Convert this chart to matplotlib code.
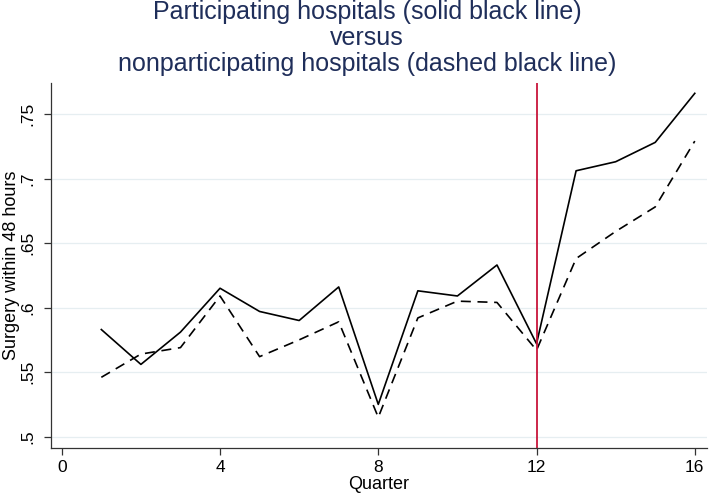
"""Surgery within 48 hours: participating vs nonparticipating hospitals."""

import matplotlib

matplotlib.use("Agg")

import matplotlib.pyplot as plt  # noqa: E402

plt.rcParams["font.family"] = ["Liberation Sans", "DejaVu Sans"]

quarters = list(range(1, 17))
participating = [0.583, 0.556, 0.581, 0.615, 0.597, 0.590, 0.616, 0.525,
                 0.613, 0.609, 0.633, 0.572, 0.706, 0.713, 0.728, 0.766]
nonparticipating = [0.546, 0.564, 0.569, 0.609, 0.562, 0.575, 0.589, 0.515,
                    0.592, 0.605, 0.604, 0.567, 0.638, 0.659, 0.678, 0.729]
intervention_quarter = 12

x_ticks = [0, 4, 8, 12, 16]
y_ticks = [0.5, 0.55, 0.6, 0.65, 0.7, 0.75]
y_tick_labels = [".5", ".55", ".6", ".65", ".7", ".75"]

title_lines = [
    "Participating hospitals (solid black line)",
    "versus",
    "nonparticipating hospitals (dashed black line)",
]

fig = plt.figure(figsize=(7.09, 4.97), dpi=100)
ax = fig.add_axes([0.0715, 0.098, 0.9252, 0.735])

ax.plot(quarters, participating, color="black", linewidth=1.2)
ax.plot(quarters, nonparticipating, color="black", linewidth=1.2,
        linestyle=(0, (6, 4)))
ax.axvline(intervention_quarter, color="#C8153A", linewidth=1.3)

ax.set_xlim(-0.28, 16.3)
ax.set_ylim(0.491, 0.774)
ax.set_xticks(x_ticks)
ax.set_yticks(y_ticks)
ax.set_yticklabels(y_tick_labels, rotation=90, va="center")
ax.tick_params(labelsize=12.5, length=5, width=0.9, color="#333333")
ax.tick_params(axis="y", pad=6)
ax.grid(axis="y", color="#E6EEF1", linewidth=0.9)
ax.set_axisbelow(True)
ax.spines[["top", "right"]].set_visible(False)
for side in ("left", "bottom"):
    ax.spines[side].set_color("#333333")
    ax.spines[side].set_linewidth(0.9)

ax.set_xlabel("Quarter", fontsize=13, labelpad=1)
ax.set_ylabel("Surgery within 48 hours", fontsize=13, labelpad=0)

fig.text(367 / 709, 1.0, "\n".join(title_lines), ha="center", va="top",
         fontsize=18, color="#1F2E5A", linespacing=1.1)

fig.savefig("out.png", dpi=100, facecolor="white")
